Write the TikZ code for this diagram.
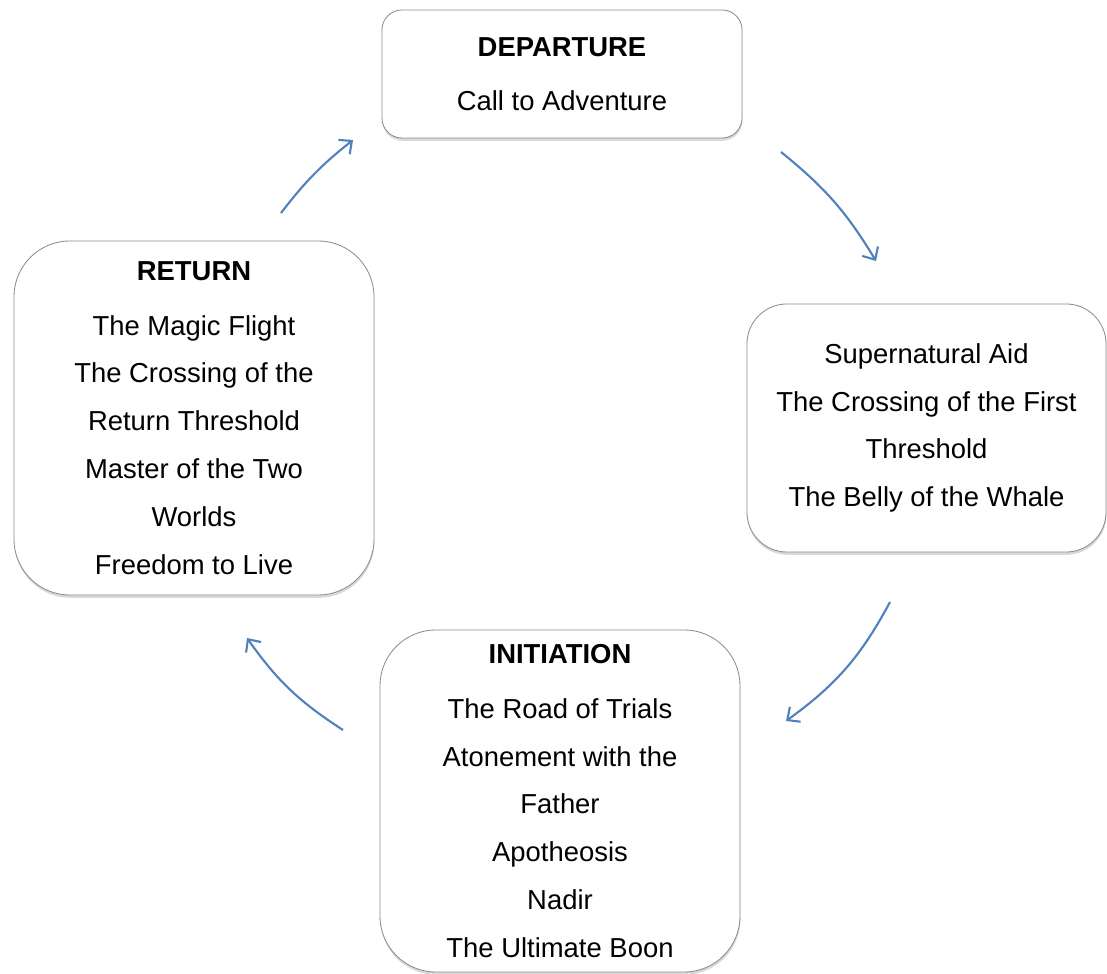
\documentclass[tikz,border=0pt]{standalone}
\usepackage{fontspec}
\setmainfont{Liberation Sans}
\usepackage{tikz}
\usetikzlibrary{arrows.meta, positioning, shadows}
\definecolor{cycleblue}{HTML}{4F81BD}
\definecolor{boxgray}{HTML}{8C8C8C}
\tikzstyle{stage} = [rectangle, draw=boxgray, line width=0.6pt, fill=white, align=center, text centered, font=\fontsize{19.5}{34}\selectfont, drop shadow={shadow xshift=0.3pt, shadow yshift=-0.07cm, opacity=0.3}]
\tikzstyle{arrow} = [draw=cycleblue, line width=1.5pt, -{Straight Barb[length=7pt, width=13pt]}]

\begin{document}
\begin{tikzpicture}[x=0.025cm, y=0.025cm]
    \useasboundingbox (0,0) rectangle (1107,974);
    \node[stage, minimum width=9cm, minimum height=3.2cm, rounded corners=0.5cm] (dep) at (562,900) {\textbf{DEPARTURE}\\[4pt]Call to Adventure};
    \node[stage, minimum width=8.975cm, minimum height=6.2cm, rounded corners=1cm] (sup) at (926.5,546) {Supernatural Aid\\The Crossing of the First\\Threshold\\The Belly of the Whale};
    \node[stage, minimum width=9cm, minimum height=8.55cm, rounded corners=1.4cm] (ini) at (560,173) {\textbf{INITIATION}\\[5pt]The Road of Trials\\Atonement with the\\Father\\Apotheosis\\Nadir\\The Ultimate Boon};
    \node[stage, minimum width=9cm, minimum height=8.85cm, rounded corners=1.4cm] (ret) at (194,556) {\textbf{RETURN}\\[5pt]The Magic Flight\\The Crossing of the\\Return Threshold\\Master of the Two\\Worlds\\Freedom to Live};

    % ends of the cycle arrows
    \coordinate (retout) at (281,761);
    \coordinate (depin) at (353,834);
    \coordinate (depout) at (781,822);
    \coordinate (supin) at (876,713);
    \coordinate (supout) at (890,372);
    \coordinate (iniin) at (786,253);
    \coordinate (iniout) at (343,244);
    \coordinate (retin) at (247,336);

    \draw[arrow] (retout) to[bend left=7] (depin);
    \draw[arrow] (depout) to[bend left=10] (supin);
    \draw[arrow] (supout) to[bend left=13] (iniin);
    \draw[arrow] (iniout) to[bend left=11] (retin);
\end{tikzpicture}
\end{document}
